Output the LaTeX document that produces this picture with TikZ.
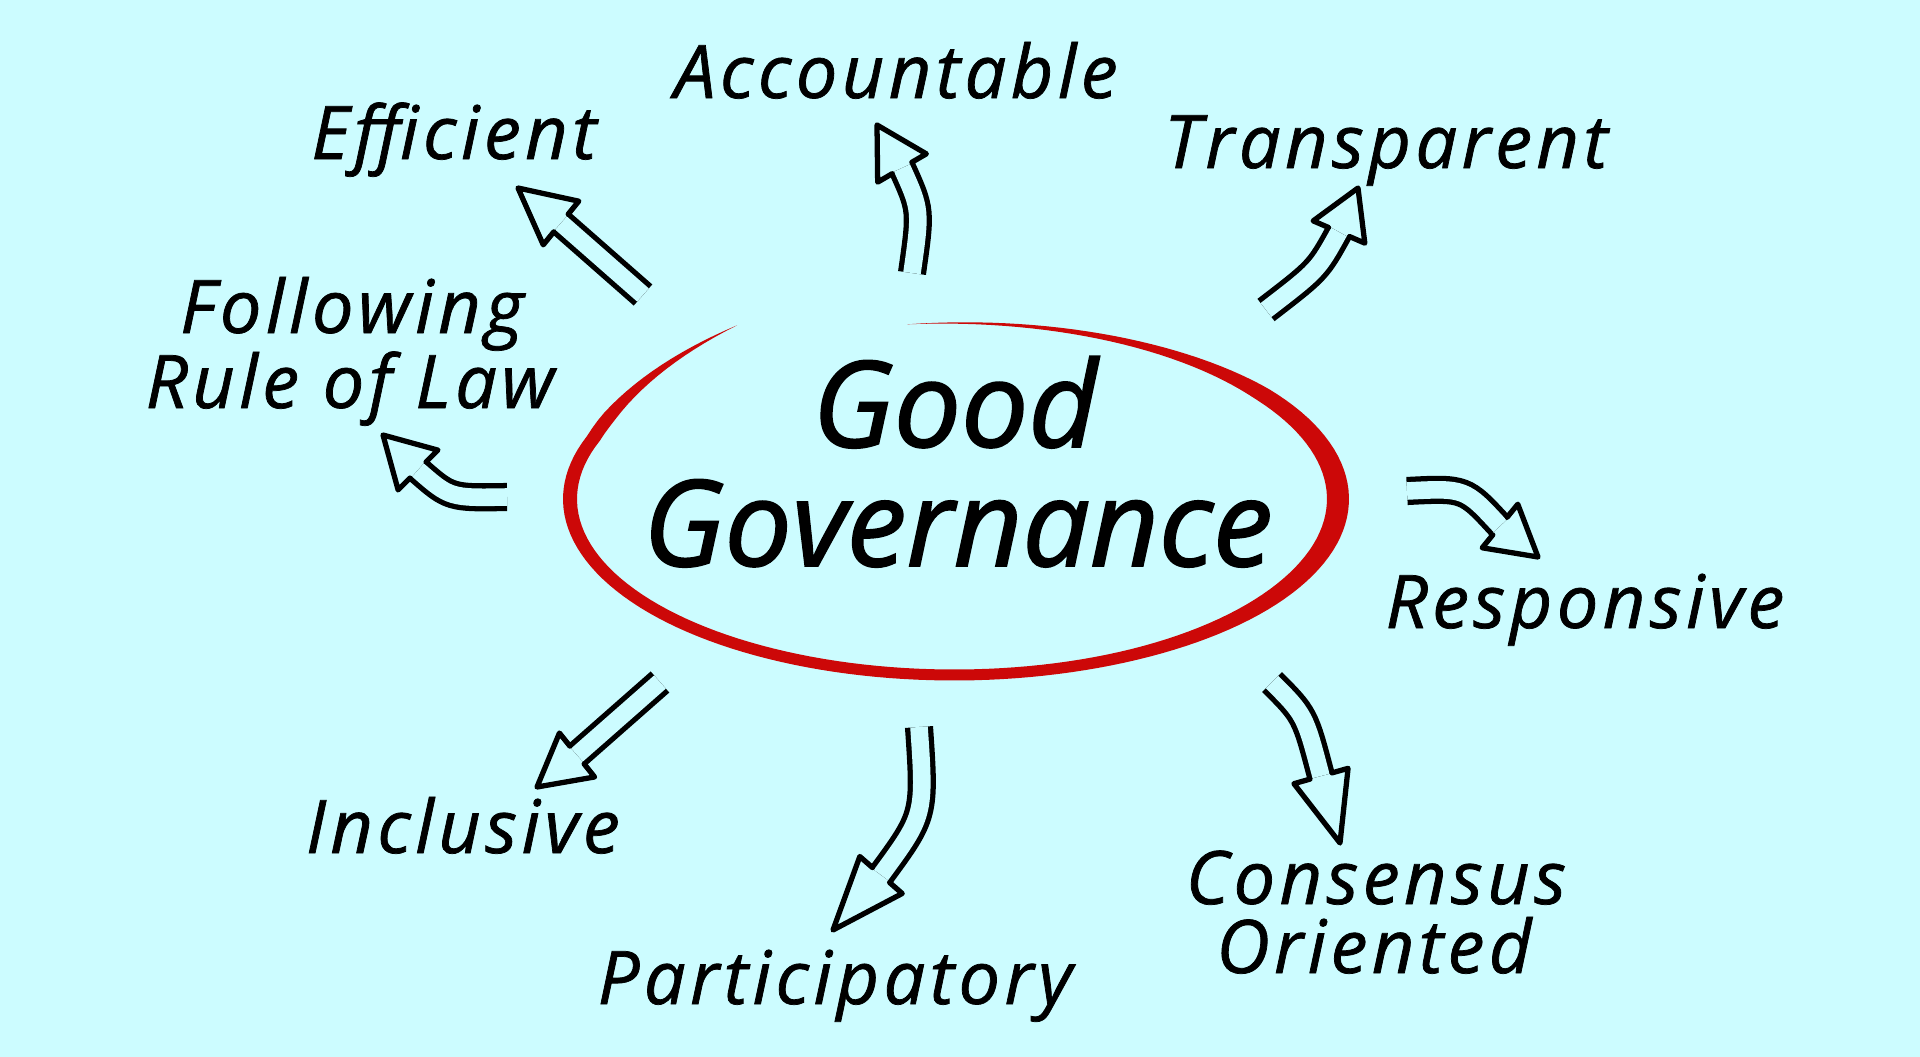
\documentclass[tikz,border=0pt]{standalone}
\usepackage{fontspec}
\setmainfont{Open Sans}
\usetikzlibrary{calc}
\definecolor{bgcyan}{RGB}{204,252,255}
\definecolor{gred}{RGB}{204,8,8}
\tikzset{
  shaft/.style={line width=1.5pt, double=bgcyan, double distance=5pt, line cap=butt},
  tipline/.style={line width=1.5pt, line join=round, line cap=round},
  lbl/.style={font=\itshape\fontsize{21}{24}\selectfont\addfontfeature{LetterSpace=6,FakeBold=1}, anchor=base},
  ttl/.style={font=\itshape\fontsize{34}{40}\selectfont\addfontfeature{FakeBold=1.5}, anchor=base}
}
\newcommand{\hollowhead}[2]{%
  \draw[tipline] ($(#1)!3.25pt!90:(#2)$) -- ($(#1)!8pt!90:(#2)$) -- (#2)
    -- ($(#1)!8pt!-90:(#2)$) -- ($(#1)!3.25pt!-90:(#2)$);}
\begin{document}
\begin{tikzpicture}[x=0.01cm, y=-0.01cm,
    declare function={bw(\t)=(11+11*max(0,cos(\t))^3+3*max(0,-cos(\t))^2)*min(1,(\t+97)/60)*min(1,(235.6-\t)/30);
      lift(\t)=0.8*max(0,\t-200);}]
    \fill[bgcyan] (0,0) rectangle (1920,1057);

    % red loop
    \fill[gred] plot[domain=-97:235.6, samples=160] ({954+(384+bw(\x)/2)*cos(\x)}, {499+(176+bw(\x)/2)*sin(\x)-lift(\x)})
      -- plot[domain=235.6:-97, samples=160] ({954+(384-bw(\x)/2)*cos(\x)}, {499+(176-bw(\x)/2)*sin(\x)-lift(\x)}) -- cycle;

    % title
    \node[ttl] (good) at (955,447) {Good};
    \node[ttl] (gov) at (958,566) {Governance};

    % labels
    \node[lbl] (acc) at (896,98) {Accountable};
    \node[lbl] (eff) at (454,159) {Efficient};
    \node[lbl] (tra) at (1386,168) {Transparent};
    \node[lbl] (fol) at (352,333) {Following};
    \node[lbl] (law) at (350,408) {Rule of Law};
    \node[lbl] (res) at (1585,628) {Responsive};
    \node[lbl] (con) at (1376,904) {Consensus};
    \node[lbl] (ori) at (1374,973) {Oriented};
    \node[lbl] (par) at (835,1004) {Participatory};
    \node[lbl] (inc) at (463,853) {Inclusive};

    % arrows: tail, control, base of head, tip
    \coordinate (a1-s) at (643,295); \coordinate (a1-c) at (602,259); \coordinate (a1-b) at (561,223); \coordinate (a1-t) at (518,188);
    \coordinate (a2-s) at (912,273); \coordinate (a2-c) at (921,210); \coordinate (a2-b) at (902,168); \coordinate (a2-t) at (877,125);
    \coordinate (a3-s) at (1266,310); \coordinate (a3-c) at (1318,270); \coordinate (a3-b) at (1339,232); \coordinate (a3-t) at (1358,188);
    \coordinate (a4-s) at (507,497); \coordinate (a4-c) at (450,498); \coordinate (a4-b) at (418,470); \coordinate (a4-t) at (383,435);
    \coordinate (a5-s) at (1407,491); \coordinate (a5-c) at (1465,488); \coordinate (a5-b) at (1500,526); \coordinate (a5-t) at (1538,557);
    \coordinate (a6-s) at (660,682); \coordinate (a6-c) at (618,718); \coordinate (a6-b) at (577,755); \coordinate (a6-t) at (537,787);
    \coordinate (a7-s) at (919,727); \coordinate (a7-c) at (925,815); \coordinate (a7-b) at (881,875); \coordinate (a7-t) at (833,930);
    \coordinate (a8-s) at (1272,682); \coordinate (a8-c) at (1305,715); \coordinate (a8-b) at (1321,776); \coordinate (a8-t) at (1340,843);

    \foreach \n in {a1,a2,a3,a4,a5,a6,a7,a8}
    {\draw[shaft] (\n-s) .. controls (\n-c) .. (\n-b);
    \hollowhead{\n-b}{\n-t}}
\end{tikzpicture}
\end{document}
